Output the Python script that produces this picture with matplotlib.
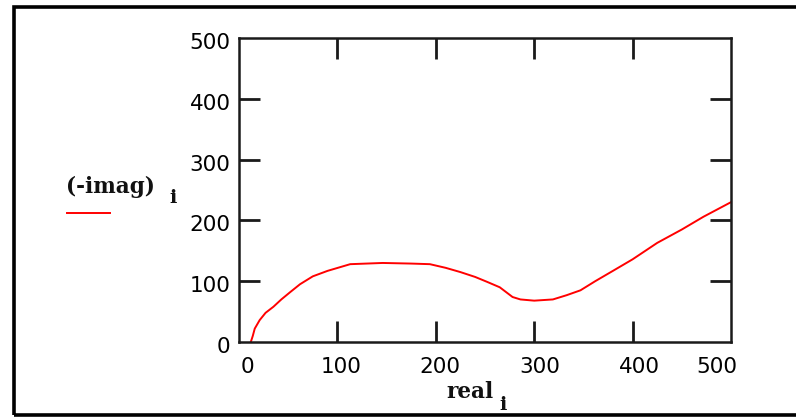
import numpy as np
import matplotlib
matplotlib.use("Agg")
import matplotlib.pyplot as plt
import matplotlib.patches as patches
import matplotlib.transforms as mtransforms

# curve values
real = [12, 14, 16, 21, 27, 35, 43, 52, 62, 75, 90, 113, 146, 175, 194, 210,
        225, 240, 252, 265, 278, 286, 300, 319, 333, 347, 362, 380, 400, 425,
        450, 472, 500]
neg_imag = [0, 10, 22, 36, 48, 58, 70, 82, 95, 108, 117, 128, 130, 129, 128,
            122, 115, 107, 99, 90, 74, 70, 68, 70, 77, 85, 100, 117, 136, 163,
            185, 206, 230]
inner_ticks = [100, 200, 300, 400]
end_ticks = [0, 500]

W, H = 796, 418
fig = plt.figure(figsize=(W / 100, H / 100), dpi=100)

# outer frame (right edge lies outside the picture)
fig.patches.append(
    patches.Rectangle(
        (14 / W, 3 / H), 1.2, 1 - 9.5 / H,
        transform=fig.transFigure, fill=False,
        edgecolor="#000000", linewidth=2.6, clip_on=False
    )
)

ax = fig.add_axes([239 / W, 1 - 342 / H, (731 - 239) / W, (342 - 38) / H])
ax.plot(real, neg_imag, color="#ff0000", linewidth=1.4)
ax.set_xlim(0, 500)
ax.set_ylim(0, 500)

# inner ticks carry marks, the end values only labels
ax.set_xticks(inner_ticks)
ax.set_yticks(inner_ticks)
ax.set_xticks(end_ticks, minor=True)
ax.set_yticks(end_ticks, minor=True)
ax.set_xticklabels([str(v) for v in end_ticks], minor=True)
ax.set_yticklabels([str(v) for v in end_ticks], minor=True)

for s in ax.spines.values():
    s.set_linewidth(1.8)
    s.set_color("#1a1a1a")

ax.tick_params(which="major", direction="in", length=15, width=2,
               color="#1a1a1a", top=True, right=True)
ax.tick_params(which="minor", length=0)
ax.tick_params(which="both", labelsize=15.5)
ax.tick_params(axis="x", which="both", pad=11)
ax.tick_params(axis="y", which="both", pad=6)

def shift(lab, dx, dy):
    lab.set_transform(lab.get_transform() +
                      mtransforms.ScaledTranslation(dx / 100, dy / 100, fig.dpi_scale_trans))

# nudge x tick labels as placed in the reference
for lab, dx in zip(ax.get_xticklabels(), [4, 4, 6, 7]):
    shift(lab, dx, 0)
for lab, dx in zip(ax.get_xticklabels(minor=True), [8, -14]):
    shift(lab, dx, 0)
for lab in ax.get_yticklabels() + ax.get_yticklabels(minor=True):
    shift(lab, 0, -3)

lab_font = dict(family="DejaVu Serif", weight="bold", color="#111111")

# legend-like label on the left
fig.text(66 / W, 1 - 193 / H, "(-imag)", fontsize=15.5, va="baseline", **lab_font)
fig.text(169 / W, 1 - 203 / H, "i", fontsize=14, va="baseline", **lab_font)
fig.add_artist(plt.Line2D([67 / W, 110 / W], [1 - 213 / H, 1 - 213 / H],
                          transform=fig.transFigure, color="#ff0000", linewidth=1.4))

# x axis label
fig.text(446 / W, 1 - 398 / H, "real", fontsize=15.5, va="baseline", **lab_font)
fig.text(499 / W, 1 - 410 / H, "i", fontsize=14, va="baseline", **lab_font)

fig.savefig("out.png", dpi=100)
